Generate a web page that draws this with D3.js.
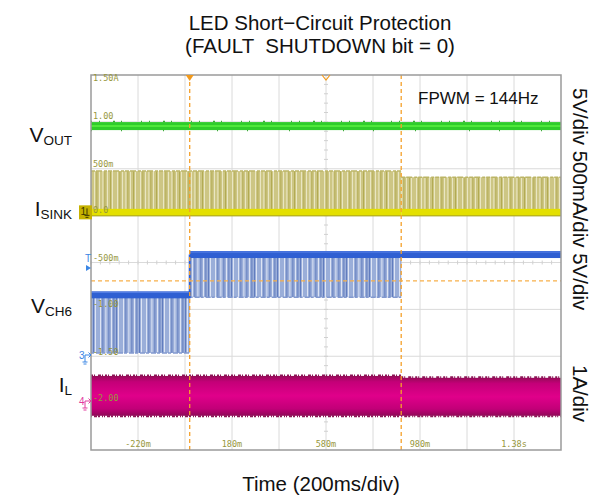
<!DOCTYPE html>
<meta charset="utf-8">
<script src="https://d3js.org/d3.v7.min.js"></script>
<style>
  body { margin: 0; background: #fff; }
  svg text { font-family: Arial, "Liberation Sans", sans-serif; }
  .mono { font-family: "DejaVu Sans Mono", "Liberation Mono", monospace !important; }
</style>
<div id="my_dataviz"></div>
<script>
// time axis (ms) and its tick labels
const timeDomain = [-420, 1580];
const timeTicks = [-220, 180, 580, 980, 1380];
const timeTickLabels = ["-220m", "180m", "580m", "980m", "1.38s"];

// cursors (ms) and horizontal cursor level (divisions from top)
const cursorTimes = [0, 900];
const cursorLevel = 4.39;
const triggerTimes = [0];
const centerMarkTimes = [580];

// trace levels, in screen divisions from the top (0..8)
const voutSegs = [{t0: -420, t1: 1580, level: 1.09}];
const isinkSegs = [
  {t0: -420, t1: 900, base: 2.93, peak: 2.05},
  {t0: 900, t1: 1580, base: 2.93, peak: 2.18}
];
const vch6Segs = [
  {t0: -420, t1: 0, high: 4.69, low: 5.93},
  {t0: 0, t1: 900, high: 3.83, low: 4.74},
  {t0: 900, t1: 1580, high: 3.83, low: 3.83}
];
const ilSegs = [
  {t0: -420, t1: 900, top: 6.42, bottom: 7.27},
  {t0: 900, t1: 1580, top: 6.46, bottom: 7.27}
];

// scale readouts drawn inside the grid
const scaleDivs = [0.13, 0.94, 1.96, 2.94, 3.97, 4.95, 5.97, 6.95];
const scaleTexts = ["1.50A", "1.00", "500m", "0.0", "-500m", "-1.00", "-1.50", "-2.00"];

// channel names
const chanNames = ["V", "I", "V", "I"];
const chanSubs = ["OUT", "SINK", "CH6", "L"];
const rightLabels = ["5V/div 500mA/div 5V/div", "1A/div"];

// set the dimensions
const width = 591, height = 498;
const svg = d3.select("#my_dataviz")
  .append("svg")
  .attr("width", width)
  .attr("height", height);

const x = d3.scaleLinear().domain(timeDomain).range([91, 561]);
const y = d3.scaleLinear().domain([0, 8]).range([75, 450]);

const defs = svg.append("defs");
defs.append("clipPath").attr("id", "plotclip")
  .append("rect").attr("x", 91).attr("y", 75).attr("width", 470).attr("height", 375);

// stripe patterns for the PWM pulse areas
function stripes(id, bg, light, dark, lightPos, darkPos) {
  const p = defs.append("pattern").attr("id", id)
    .attr("patternUnits", "userSpaceOnUse").attr("width", 23).attr("height", 10);
  p.append("rect").attr("width", 23).attr("height", 10).attr("fill", bg);
  lightPos.forEach(d => p.append("rect").attr("x", d).attr("width", 0.8).attr("height", 10).attr("fill", light));
  darkPos.forEach(d => p.append("rect").attr("x", d).attr("width", 0.8).attr("height", 10).attr("fill", dark));
}
stripes("yPulse", "#cdc684", "#f1eed2", "#aca446", [2, 7, 10.5, 15, 20], [4.5, 12.5, 18]);
stripes("bPulse", "#9aaed9", "#eef2fb", "#5370b8", [3, 8, 13.5, 19], [1, 10.5, 16.5, 21.5]);

const mg = defs.append("linearGradient").attr("id", "magGrad")
  .attr("x1", 0).attr("y1", 0).attr("x2", 0).attr("y2", 1);
[[0, "#960a58"], [0.15, "#c40078"], [0.5, "#e0008a"], [0.82, "#c20078"], [1, "#900858"]]
  .forEach(s => mg.append("stop").attr("offset", s[0]).attr("stop-color", s[1]));

// grid
const grid = svg.append("g");
grid.selectAll("line.v").data(d3.range(1, 10)).join("line")
  .attr("x1", d => 91 + d * 47).attr("x2", d => 91 + d * 47)
  .attr("y1", 75).attr("y2", 450)
  .attr("stroke", "#dadada").attr("stroke-width", 1);
grid.selectAll("line.h").data(d3.range(1, 8)).join("line")
  .attr("x1", 91).attr("x2", 561)
  .attr("y1", d => y(d)).attr("y2", d => y(d))
  .attr("stroke", "#dadada").attr("stroke-width", 1);
// minor ticks on the centre lines
grid.selectAll("line.mh").data(d3.range(0, 50)).join("line")
  .attr("x1", d => 91 + d * 9.4).attr("x2", d => 91 + d * 9.4)
  .attr("y1", y(4) - 2).attr("y2", y(4) + 2)
  .attr("stroke", "#d0d0d0");
grid.selectAll("line.mv").data(d3.range(0, 40)).join("line")
  .attr("x1", 326 - 2).attr("x2", 326 + 2)
  .attr("y1", d => 75 + d * 9.375).attr("y2", d => 75 + d * 9.375)
  .attr("stroke", "#d0d0d0");

const plot = svg.append("g").attr("clip-path", "url(#plotclip)");

// VOUT (green)
const g1 = plot.append("g");
g1.selectAll("rect").data(voutSegs).join("rect")
  .attr("x", d => x(d.t0)).attr("width", d => x(d.t1) - x(d.t0))
  .attr("y", d => y(d.level) - 4).attr("height", 8)
  .attr("fill", "#2fcc2a");
g1.selectAll("line.c").data(voutSegs).join("line")
  .attr("x1", d => x(d.t0)).attr("x2", d => x(d.t1))
  .attr("y1", d => y(d.level)).attr("y2", d => y(d.level))
  .attr("stroke", "#4ee83a").attr("stroke-width", 2);
[-4.5, 4.5].forEach((off, k) => g1.selectAll("line.n" + k).data(voutSegs).join("line")
  .attr("x1", d => x(d.t0)).attr("x2", d => x(d.t1))
  .attr("y1", d => y(d.level) + off).attr("y2", d => y(d.level) + off)
  .attr("stroke", "#3faa3a").attr("stroke-width", 1.5)
  .attr("stroke-dasharray", off < 0 ? "1,7,1,13,2,6,1,19" : "1,29,1,41,1,53"));

// ISINK (yellow)
const g2 = plot.append("g");
g2.selectAll("rect.p").data(isinkSegs).join("rect")
  .attr("x", d => x(d.t0)).attr("width", d => x(d.t1) - x(d.t0))
  .attr("y", d => y(d.peak)).attr("height", d => y(d.base) - y(d.peak))
  .attr("fill", "url(#yPulse)");
g2.selectAll("line.t").data(isinkSegs).join("line")
  .attr("x1", d => x(d.t0)).attr("x2", d => x(d.t1))
  .attr("y1", d => y(d.peak)).attr("y2", d => y(d.peak))
  .attr("stroke", "#bcb566").attr("stroke-width", 1.5)
  .attr("stroke-dasharray", "4,1,6,2,3,1");
g2.selectAll("rect.b").data(isinkSegs).join("rect")
  .attr("x", d => x(d.t0)).attr("width", d => x(d.t1) - x(d.t0))
  .attr("y", d => y(d.base) - 3.5).attr("height", 7)
  .attr("fill", "#e4e000");
g2.selectAll("line.e").data(isinkSegs).join("line")
  .attr("x1", d => x(d.t0)).attr("x2", d => x(d.t1))
  .attr("y1", d => y(d.base) + 3.5).attr("y2", d => y(d.base) + 3.5)
  .attr("stroke", "#a9a214").attr("stroke-width", 1);

// VCH6 (blue)
const g3 = plot.append("g");
g3.selectAll("rect.p").data(vch6Segs.filter(d => d.low > d.high)).join("rect")
  .attr("x", d => x(d.t0)).attr("width", d => x(d.t1) - x(d.t0))
  .attr("y", d => y(d.high)).attr("height", d => y(d.low) - y(d.high))
  .attr("fill", "url(#bPulse)");
g3.selectAll("line.l").data(vch6Segs.filter(d => d.low > d.high)).join("line")
  .attr("x1", d => x(d.t0)).attr("x2", d => x(d.t1))
  .attr("y1", d => y(d.low)).attr("y2", d => y(d.low))
  .attr("stroke", "#8299cf").attr("stroke-width", 1.5)
  .attr("stroke-dasharray", "3,2,5,1");
g3.selectAll("rect.b").data(vch6Segs).join("rect")
  .attr("x", d => x(d.t0)).attr("width", d => x(d.t1) - x(d.t0) + 1)
  .attr("y", d => y(d.high) - 3.5).attr("height", 7)
  .attr("fill", "#2f5fd2");
g3.selectAll("line.h").data(vch6Segs).join("line")
  .attr("x1", d => x(d.t0)).attr("x2", d => x(d.t1))
  .attr("y1", d => y(d.high) - 2.5).attr("y2", d => y(d.high) - 2.5)
  .attr("stroke", "#5a84e8").attr("stroke-width", 1);
g3.append("line")
  .attr("x1", x(0)).attr("x2", x(0))
  .attr("y1", y(vch6Segs[1].high)).attr("y2", y(vch6Segs[0].high))
  .attr("stroke", "#2f5fd2").attr("stroke-width", 2);

// IL (magenta)
const g4 = plot.append("g");
g4.selectAll("rect").data(ilSegs).join("rect")
  .attr("x", d => x(d.t0)).attr("width", d => x(d.t1) - x(d.t0) + 0.5)
  .attr("y", d => y(d.top)).attr("height", d => y(d.bottom) - y(d.top))
  .attr("fill", "url(#magGrad)");
g4.selectAll("line.t").data(ilSegs).join("line")
  .attr("x1", d => x(d.t0)).attr("x2", d => x(d.t1))
  .attr("y1", d => y(d.top) - 0.5).attr("y2", d => y(d.top) - 0.5)
  .attr("stroke", "#8c1556").attr("stroke-width", 2)
  .attr("stroke-dasharray", "2,1,1,3,3,1,1,2");
g4.selectAll("line.b").data(ilSegs).join("line")
  .attr("x1", d => x(d.t0)).attr("x2", d => x(d.t1))
  .attr("y1", d => y(d.bottom) + 0.5).attr("y2", d => y(d.bottom) + 0.5)
  .attr("stroke", "#8c1556").attr("stroke-width", 2)
  .attr("stroke-dasharray", "1,2,3,1,2,2,1,1");

// cursors
const cur = svg.append("g");
cur.selectAll("line.v").data(cursorTimes).join("line")
  .attr("x1", d => x(d)).attr("x2", d => x(d))
  .attr("y1", 75).attr("y2", 450)
  .attr("stroke", "#f5a02a").attr("stroke-width", 1.3)
  .attr("stroke-dasharray", "4,3");
cur.append("line")
  .attr("x1", 91).attr("x2", 561)
  .attr("y1", y(cursorLevel)).attr("y2", y(cursorLevel))
  .attr("stroke", "#f7b04a").attr("stroke-width", 1.3)
  .attr("stroke-dasharray", "4,3");

// frame
svg.append("rect")
  .attr("x", 91).attr("y", 75).attr("width", 470).attr("height", 375)
  .attr("fill", "none").attr("stroke", "#9a9a9a").attr("stroke-width", 1.5);

// trigger and centre markers
svg.selectAll("path.trig").data(triggerTimes).join("path")
  .attr("d", d => `M${x(d) - 4},75 L${x(d) + 4},75 L${x(d)},81 Z`)
  .attr("fill", "#f29a1c");
svg.selectAll("path.ctr").data(centerMarkTimes).join("path")
  .attr("d", d => `M${x(d) - 4},75 L${x(d)},80 L${x(d) + 4},75`)
  .attr("fill", "none").attr("stroke", "#f29a1c").attr("stroke-width", 1.2);

// scale readouts
svg.selectAll("text.scale").data(scaleDivs).join("text")
  .attr("class", "mono")
  .attr("x", 93).attr("y", d => y(d))
  .style("font-size", "8.5px").attr("fill", "#97973c")
  .text((d, i) => scaleTexts[i]);

// time readouts
svg.selectAll("text.time").data(timeTicks).join("text")
  .attr("class", "mono")
  .attr("x", d => x(d)).attr("y", 447)
  .attr("text-anchor", "middle")
  .style("font-size", "8.5px").attr("fill", "#97973c")
  .text((d, i) => timeTickLabels[i]);

// channel markers at the left edge
const yb = y(isinkSegs[0].base);
svg.append("rect").attr("x", 79).attr("y", yb - 7).attr("width", 13).attr("height", 14)
  .attr("fill", "#c6b200");
svg.append("text").attr("x", 80.5).attr("y", yb + 3).style("font-size", "10px")
  .attr("fill", "#3d3600").text("1");
svg.append("path").attr("d", `M87,${yb - 4} V${yb + 3} M84.5,${yb + 3} H89.5 M85.5,${yb + 5} H88.5`)
  .attr("stroke", "#3d3600").attr("fill", "none");
svg.append("text").attr("x", 85).attr("y", 262).style("font-size", "10px")
  .attr("fill", "#3b86e4").text("T");
svg.append("path").attr("d", "M86,265 L91,268 L86,271 Z").attr("fill", "#3b86e4");
svg.append("text").attr("x", 79).attr("y", 359).style("font-size", "10px")
  .attr("fill", "#3b86e4").text("3");
svg.append("path").attr("d", "M85,355 H91 M88.5,352.5 L91,355 L88.5,357.5 M85,355 V362 M82.5,362 H87.5 M83.5,364 H86.5")
  .attr("stroke", "#3b86e4").attr("fill", "none");
svg.append("text").attr("x", 79).attr("y", 405).style("font-size", "10px")
  .attr("fill", "#e23a9e").text("4");
svg.append("path").attr("d", "M85,401 H91 M88.5,398.5 L91,401 L88.5,403.5 M85,401 V408 M82.5,408 H87.5 M83.5,410 H86.5")
  .attr("stroke", "#e23a9e").attr("fill", "none");

// channel names on the left
const nameY = [142, 216, 313, 392];
chanNames.forEach((n, i) => {
  const t = svg.append("text")
    .attr("x", 72).attr("y", nameY[i])
    .attr("text-anchor", "end")
    .style("font-size", "21px").attr("fill", "#111");
  t.append("tspan").text(n);
  t.append("tspan").attr("dy", 3).style("font-size", "13.5px").text(chanSubs[i]);
});

// right-hand scale labels (rotated)
const rightY = [88, 365];
rightLabels.forEach((s, i) => {
  svg.append("text")
    .attr("transform", `translate(573,${rightY[i]}) rotate(90)`)
    .style("font-size", "20.5px").attr("fill", "#111")
    .text(s);
});

// title
svg.append("text")
  .attr("x", 320).attr("y", 30)
  .attr("text-anchor", "middle")
  .style("font-size", "20.5px").attr("fill", "#111")
  .text("LED Short\u2212Circuit Protection");
svg.append("text")
  .attr("x", 320).attr("y", 53)
  .attr("text-anchor", "middle")
  .style("font-size", "20.5px").style("white-space", "pre").attr("fill", "#111")
  .text("(FAULT  SHUTDOWN bit = 0)");

// PWM frequency note
svg.append("text")
  .attr("x", 418).attr("y", 104)
  .style("font-size", "17px").attr("fill", "#111")
  .text("FPWM = 144Hz");

// x axis label
svg.append("text")
  .attr("x", 321).attr("y", 491)
  .attr("text-anchor", "middle")
  .style("font-size", "20.5px").attr("fill", "#111")
  .text("Time (200ms/div)");
</script>
